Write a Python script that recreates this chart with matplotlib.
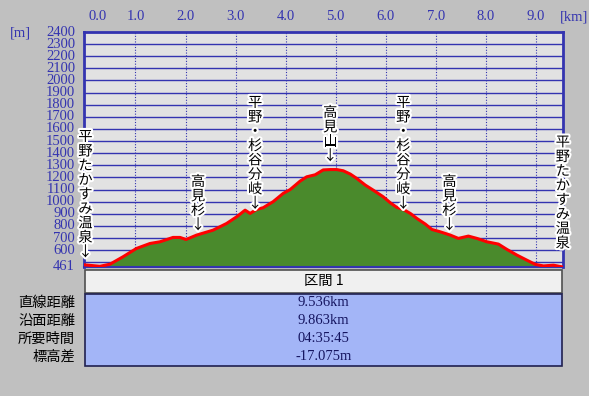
import matplotlib
matplotlib.use("Agg")
import matplotlib.pyplot as plt
import matplotlib.patheffects as pe
from matplotlib.patches import Rectangle

# --- profile data (distance km / elevation m) ---
dist_km = [0.0, 0.29, 0.49, 0.75, 1.02, 1.29, 1.49, 1.75, 1.89, 2.01, 2.22, 2.55,
           2.82, 3.02, 3.19, 3.29, 3.42, 3.55, 3.75, 3.95, 4.09, 4.29, 4.42, 4.59,
           4.75, 4.89, 5.02, 5.15, 5.29, 5.42, 5.59, 5.75, 5.95, 6.09, 6.22, 6.35,
           6.49, 6.62, 6.79, 6.92, 7.09, 7.29, 7.45, 7.65, 7.82, 8.02, 8.25, 8.42,
           8.62, 8.82, 8.99, 9.15, 9.35, 9.45, 9.536]
elev_m = [478, 467, 484, 545, 614, 655, 669, 705, 705, 688, 724, 765,
          820, 875, 930, 903, 936, 950, 1000, 1068, 1100, 1170, 1205, 1222,
          1262, 1265, 1265, 1255, 1228, 1192, 1137, 1095, 1040, 991, 953, 936,
          903, 862, 815, 771, 751, 724, 697, 716, 697, 669, 650, 606,
          559, 517, 482, 470, 476, 468, 461]

# waypoint labels: name, km, top elevation of label
wp_names = ["平野たかすみ温泉↓", "高見杉↓", "平野・杉谷分岐↓", "高見山↓",
            "平野・杉谷分岐↓", "高見杉↓", "平野たかすみ温泉"]
wp_km = [0.0, 2.25, 3.39, 4.89, 6.35, 7.27, 9.536]
wp_top = [1591, 1220, 1872, 1790, 1872, 1220, 1545]

y_ticks = [461] + list(range(600, 2401, 100))
x_ticks = [0, 1, 2, 3, 4, 5, 6, 7, 8, 9]

row_labels = ["直線距離", "沿面距離", "所要時間", "標高差"]
row_values = ["9.536km", "9.863km", "04:35:45", "-17.075m"]
section_name = "区間 1"

W, H = 589, 396
bg = "#c0c0c0"
blue = "#3434b0"
jp = ["Noto Sans CJK JP", "DejaVu Sans"]
num_font = "Liberation Serif"

fig = plt.figure(figsize=(W / 100, H / 100), dpi=100, facecolor=bg)

# plot area in pixels: x 84..563, y 32..267
ax = fig.add_axes([84 / W, 1 - 267 / H, (563 - 84) / W, (267 - 32) / H])
ax.set_facecolor("#e2e2e2")
ax.set_xlim(-0.028, 9.54)
ax.set_ylim(461, 2400)

for v in range(500, 2400, 100):
    ax.axhline(v, color=blue, lw=1.0, zorder=1)
for k in x_ticks[1:]:
    ax.axvline(k, color=blue, lw=0.8, ls=(0, (1, 1.5)), zorder=1)

ax.fill_between(dist_km, elev_m, 461, color="#4a8a2c", zorder=2)
ax.plot(dist_km, elev_m, color="#ff0000", lw=2.2, zorder=3, solid_joinstyle="round")

ax.set_xticks([])
ax.set_yticks([])
for side in ["left", "top", "right"]:
    ax.spines[side].set_color(blue)
    ax.spines[side].set_linewidth(2)
ax.spines["bottom"].set_color(blue)
ax.spines["bottom"].set_linewidth(1.5)

# y tick labels
for v in y_ticks:
    ax.annotate(str(v), xy=(0, v), xycoords=("axes fraction", "data"),
                xytext=(-9, 0), textcoords="offset pixels",
                ha="right", va="center", fontsize=10.5, color=blue,
                family=num_font)
fig.text(10 / W, 1 - 33 / H, "[m]", ha="left", va="center", fontsize=10.5,
         color=blue, family=num_font)

# top km labels
for k in x_ticks:
    ha = "left" if k == 0 else "center"
    dx = 3 if k == 0 else 0
    ax.annotate(f"{k:.1f}", xy=(k, 1), xycoords=("data", "axes fraction"),
                xytext=(dx, 15), textcoords="offset pixels",
                ha=ha, va="center", fontsize=10.5, color=blue, family=num_font)
fig.text(574 / W, 1 - 17 / H, "[km]", ha="center", va="center", fontsize=10.5,
         color=blue, family=num_font)

# vertical waypoint labels
stroke = [pe.withStroke(linewidth=3, foreground="white")]
for name, k, top in zip(wp_names, wp_km, wp_top):
    for i, ch in enumerate(name):
        ax.annotate(ch, xy=(k, top), xytext=(0, -i * 14.4),
                    textcoords="offset pixels", ha="center", va="top",
                    fontsize=10.3, family=jp, color="black",
                    path_effects=stroke, zorder=5, annotation_clip=False)

# summary table
tab = fig.add_axes([84 / W, 1 - 367 / H, (563 - 84) / W, (367 - 269) / H])
tab.set_xlim(0, 1)
tab.set_ylim(367, 269)
tab.axis("off")
tab.add_patch(Rectangle((0.002, 270), 0.996, 23, facecolor="#f0f0f0",
                        edgecolor="#505050", lw=1.2))
tab.add_patch(Rectangle((0.002, 294), 0.996, 72, facecolor="#a3b5f7",
                        edgecolor="#202050", lw=1.2))
tab.text(0.5, 281, section_name, ha="center", va="center", fontsize=10.3,
         family=jp, color="black")
for i, (lab, val) in enumerate(zip(row_labels, row_values)):
    y = 303 + i * 18
    tab.text(0.5, y, val, ha="center", va="center", fontsize=10.5,
             family=num_font, color="#151560")
    fig.text(75 / W, 1 - y / H, lab, ha="right", va="center", fontsize=10.3,
             family=jp, color="black")

fig.savefig("out.png", dpi=100, facecolor=bg)
